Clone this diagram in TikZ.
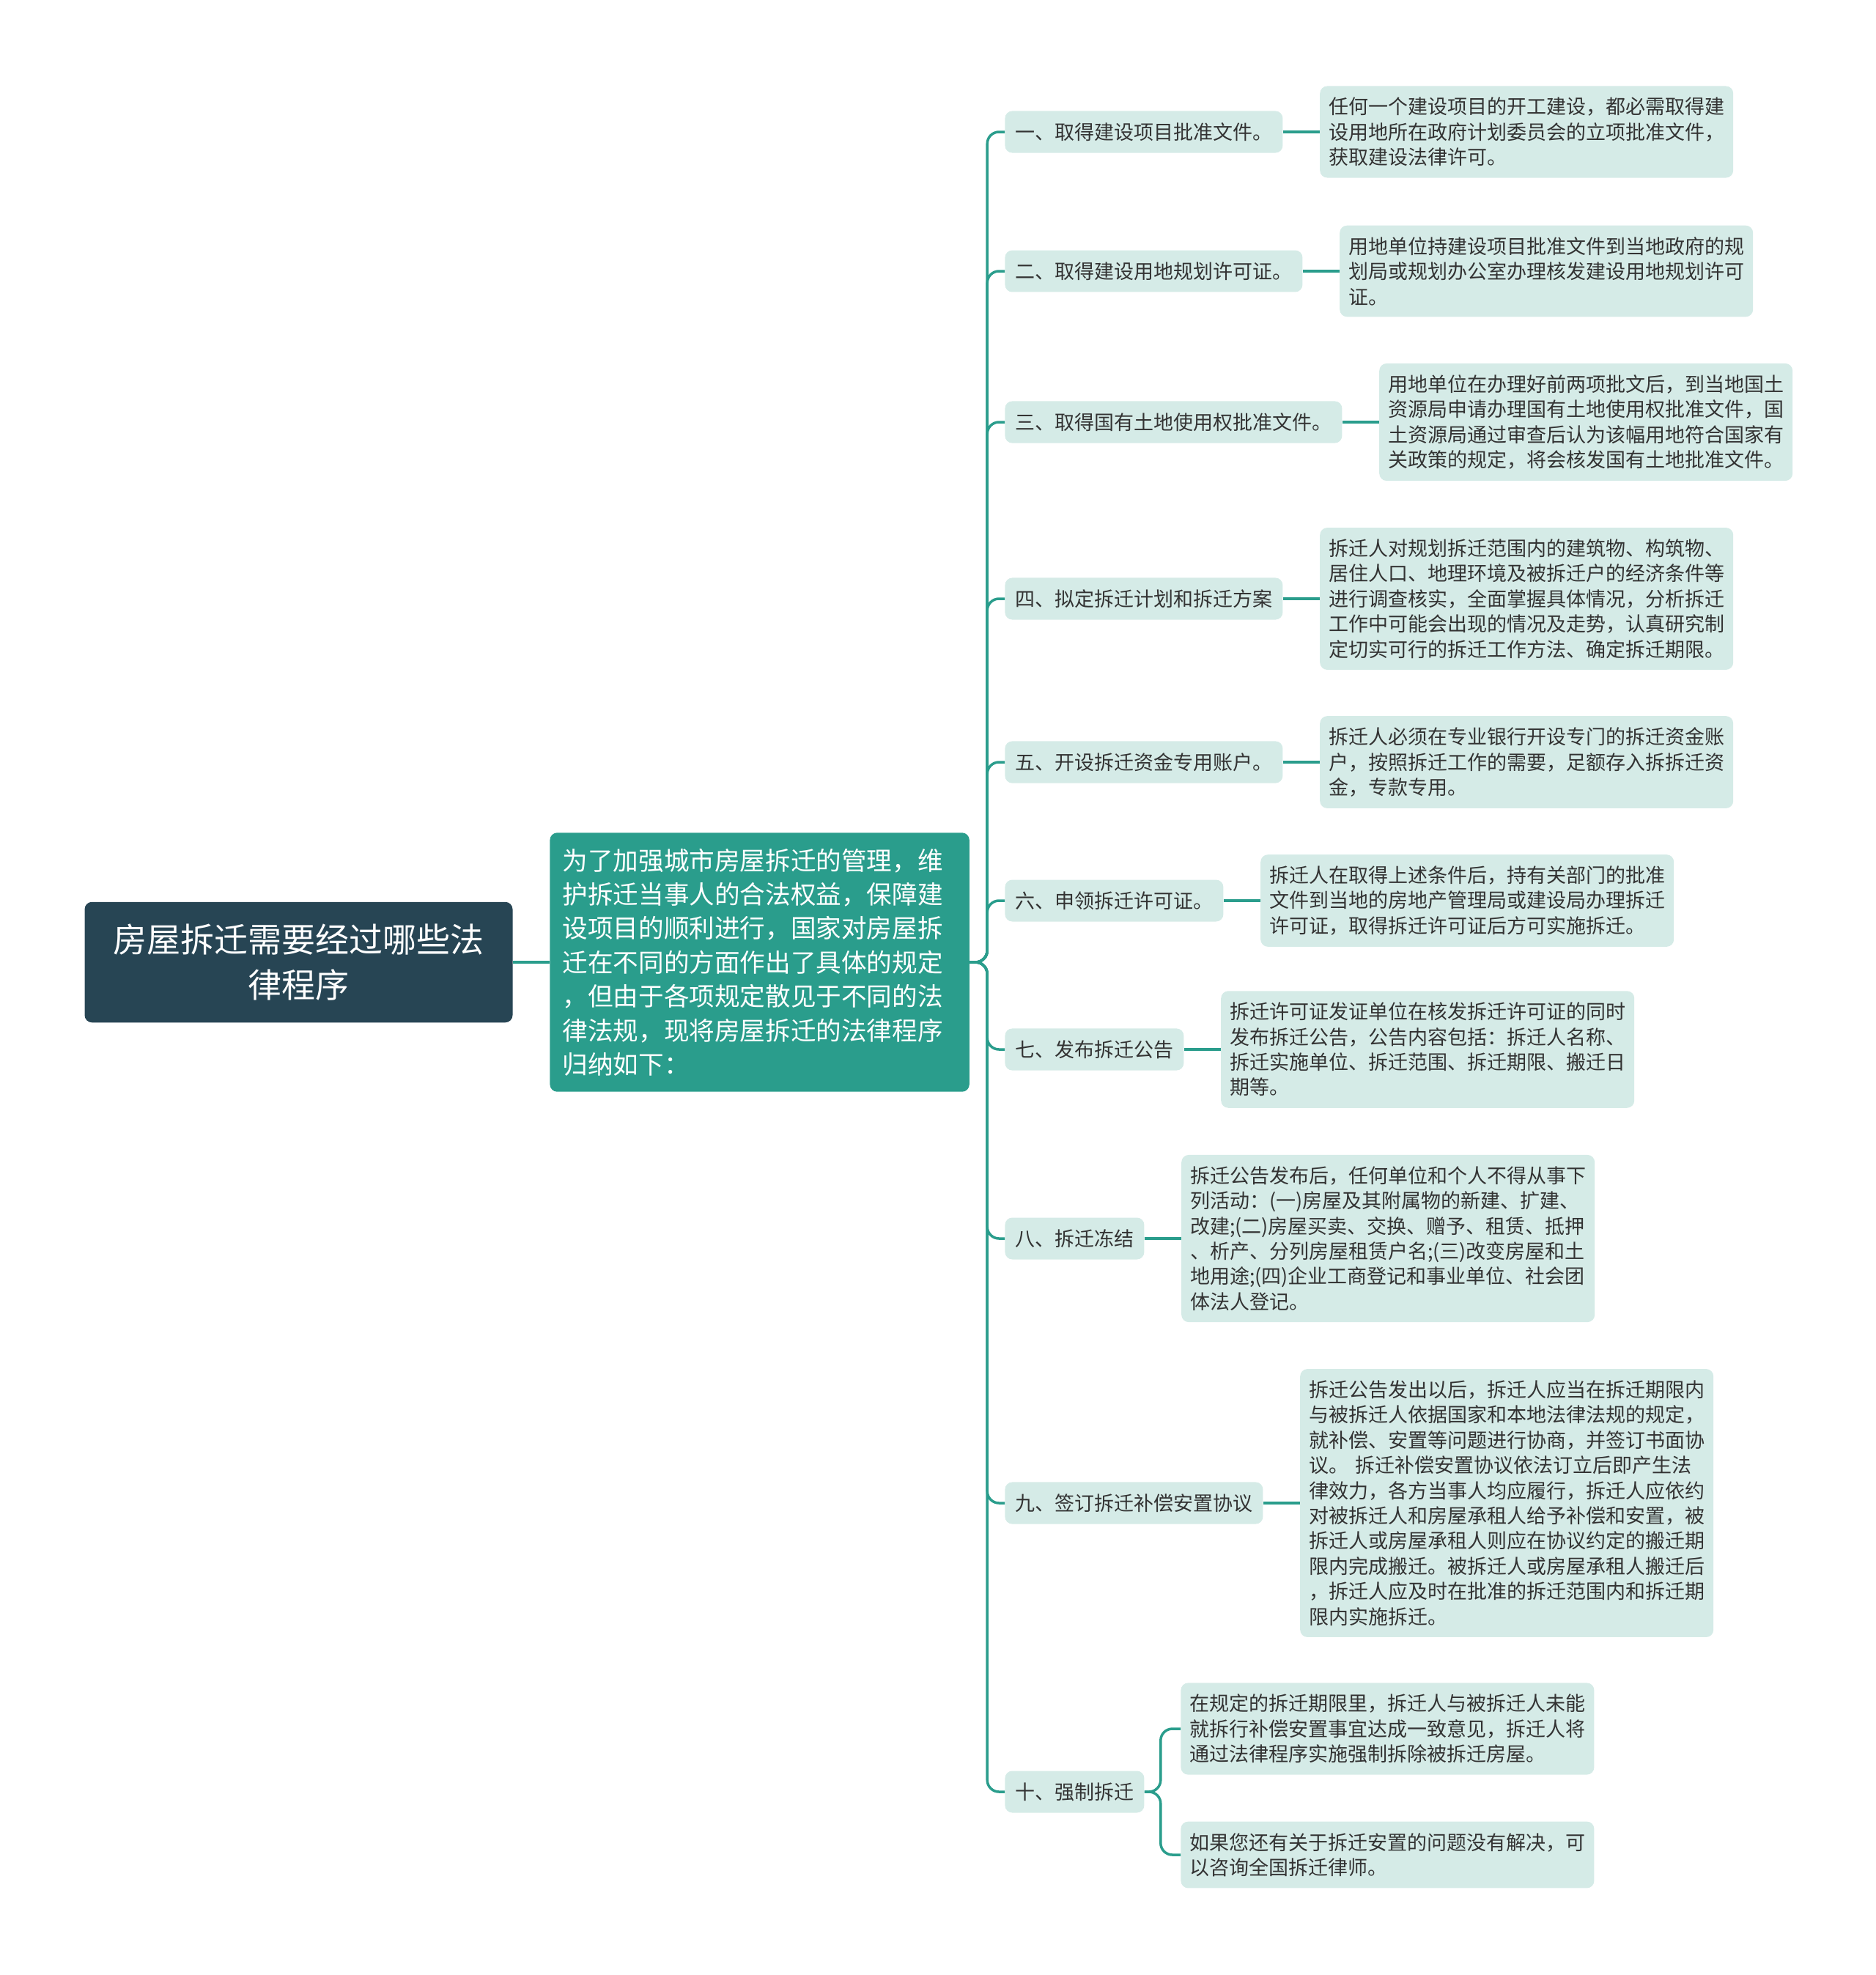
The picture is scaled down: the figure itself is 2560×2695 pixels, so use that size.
\documentclass[tikz,border=0pt]{standalone}
\usepackage{fontspec}
\setmainfont{Noto Sans CJK SC}
\usetikzlibrary{positioning}
\definecolor{rootblue}{HTML}{274554}
\definecolor{tealmain}{HTML}{2A9D8C}
\definecolor{mintfill}{HTML}{D5EBE7}
\definecolor{inkgray}{HTML}{333333}
\tikzstyle{rootbox}=[rectangle,rounded corners=5pt,fill=rootblue,text=white,font=\fontsize{23}{31}\selectfont,text width=262pt,align=center,inner xsep=15pt,inner ysep=15pt]
\tikzstyle{introbox}=[rectangle,rounded corners=5pt,fill=tealmain,text=white,font=\fontsize{17.3}{23.2}\selectfont,text width=269pt,align=left,inner xsep=8.6pt,inner ysep=10.7pt,anchor=west]
\tikzstyle{topicbox}=[rectangle,rounded corners=5pt,fill=mintfill,text=inkgray,font=\fontsize{13.5}{17.2}\selectfont,inner xsep=7pt,inner ysep=8pt,anchor=west]
\tikzstyle{detailbox}=[rectangle,rounded corners=5pt,fill=mintfill,text=inkgray,font=\fontsize{13.5}{17.2}\selectfont,text width=270pt,align=left,inner xsep=6pt,inner ysep=7.8pt,anchor=west]
\tikzstyle{branch}=[draw=tealmain,line width=1.75pt]

\begin{document}
\begin{tikzpicture}[x=0.5pt,y=-0.5pt]
    \useasboundingbox (0,0) rectangle (2560,2695);
    % Root and the intro text
    \node[rootbox] (root) at (407.5,1313) {房屋拆迁需要经过哪些法\\律程序};
    \node[introbox] (intro) at (750,1313) {为了加强城市房屋拆迁的管理，维\\护拆迁当事人的合法权益，保障建\\设项目的顺利进行，国家对房屋拆\\迁在不同的方面作出了具体的规定\\，但由于各项规定散见于不同的法\\律法规，现将房屋拆迁的法律程序\\归纳如下：};
    \path[branch] (root) -- (intro);
    % The ten steps
    \foreach \y/\name/\txt in {180/s1/{一、取得建设项目批准文件。}, 370/s2/{二、取得建设用地规划许可证。},
        576/s3/{三、取得国有土地使用权批准文件。}, 817/s4/{四、拟定拆迁计划和拆迁方案},
        1040/s5/{五、开设拆迁资金专用账户。}, 1229/s6/{六、申领拆迁许可证。},
        1432/s7/{七、发布拆迁公告}, 1690/s8/{八、拆迁冻结},
        2051/s9/{九、签订拆迁补偿安置协议}, 2445/s10/{十、强制拆迁}}
        \node[topicbox] (\name) at (1371,\y) {\txt};
    % Details next to each step
    \foreach \src/\name/\txt in {
        s1/d1/{任何一个建设项目的开工建设，都必需取得建\\设用地所在政府计划委员会的立项批准文件，\\获取建设法律许可。},
        s2/d2/{用地单位持建设项目批准文件到当地政府的规\\划局或规划办公室办理核发建设用地规划许可\\证。},
        s3/d3/{用地单位在办理好前两项批文后，到当地国土\\资源局申请办理国有土地使用权批准文件，国\\土资源局通过审查后认为该幅用地符合国家有\\关政策的规定，将会核发国有土地批准文件。},
        s4/d4/{拆迁人对规划拆迁范围内的建筑物、构筑物、\\居住人口、地理环境及被拆迁户的经济条件等\\进行调查核实，全面掌握具体情况，分析拆迁\\工作中可能会出现的情况及走势，认真研究制\\定切实可行的拆迁工作方法、确定拆迁期限。},
        s5/d5/{拆迁人必须在专业银行开设专门的拆迁资金账\\户，按照拆迁工作的需要，足额存入拆拆迁资\\金，专款专用。},
        s6/d6/{拆迁人在取得上述条件后，持有关部门的批准\\文件到当地的房地产管理局或建设局办理拆迁\\许可证，取得拆迁许可证后方可实施拆迁。},
        s7/d7/{拆迁许可证发证单位在核发拆迁许可证的同时\\发布拆迁公告，公告内容包括：拆迁人名称、\\拆迁实施单位、拆迁范围、拆迁期限、搬迁日\\期等。},
        s8/d8/{拆迁公告发布后，任何单位和个人不得从事下\\列活动：(一)房屋及其附属物的新建、扩建、\\改建;(二)房屋买卖、交换、赠予、租赁、抵押\\、析产、分列房屋租赁户名;(三)改变房屋和土\\地用途;(四)企业工商登记和事业单位、社会团\\体法人登记。},
        s9/d9/{拆迁公告发出以后，拆迁人应当在拆迁期限内\\与被拆迁人依据国家和本地法律法规的规定，\\就补偿、安置等问题进行协商，并签订书面协\\议。 拆迁补偿安置协议依法订立后即产生法\\律效力，各方当事人均应履行，拆迁人应依约\\对被拆迁人和房屋承租人给予补偿和安置，被\\拆迁人或房屋承租人则应在协议约定的搬迁期\\限内完成搬迁。被拆迁人或房屋承租人搬迁后\\，拆迁人应及时在批准的拆迁范围内和拆迁期\\限内实施拆迁。}}
    {
        \node[detailbox, right=25pt of \src] (\name) {\txt};
        \path[branch] (\src) -- (\name);
    }
    \node[detailbox] (d10a) at (1611,2359) {在规定的拆迁期限里，拆迁人与被拆迁人未能\\就拆行补偿安置事宜达成一致意见，拆迁人将\\通过法律程序实施强制拆除被拆迁房屋。};
    \node[detailbox] (d10b) at (1611,2531) {如果您还有关于拆迁安置的问题没有解决，可\\以咨询全国拆迁律师。};
    % Connect the intro with the steps
    \foreach \dest in {s1,s2,s3,s4,s5,s6,s7,s8,s9,s10}
        \path[branch,rounded corners=8pt] (intro.east) -- ++(24,0) |- (\dest.west);
    \foreach \dest in {d10a,d10b}
        \path[branch,rounded corners=8pt] (s10.east) -- ++(22,0) |- (\dest.west);
\end{tikzpicture}
\end{document}
